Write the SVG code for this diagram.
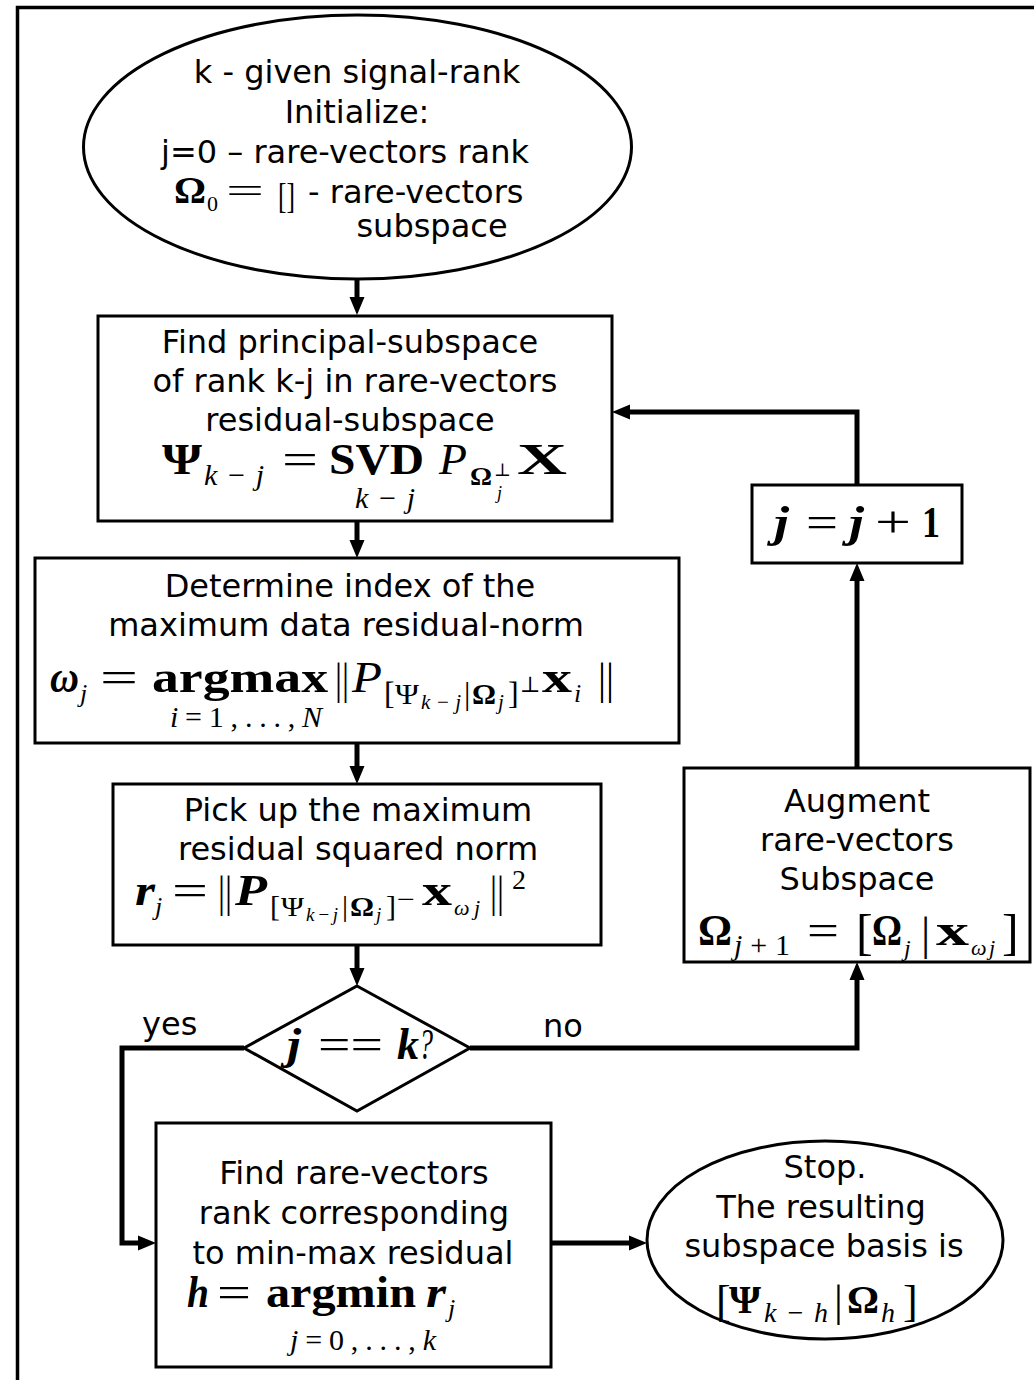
<svg xmlns="http://www.w3.org/2000/svg" width="1034" height="1380" viewBox="0 0 1034 1380">
<defs>
<style>
.frame{fill:none;stroke:#000;stroke-width:3.5}
.node{fill:#fff;stroke:#000;stroke-width:3}
.conn{fill:none;stroke:#000;stroke-width:5;stroke-linejoin:miter}
.t{font-family:"DejaVu Sans",Verdana,sans-serif;font-size:32px;fill:#000;text-anchor:middle}
.tl{font-family:"DejaVu Sans",Verdana,sans-serif;font-size:32px;fill:#000}
.m{font-family:"Liberation Serif","DejaVu Serif",serif;fill:#000}
.big{font-size:44px}
.mb{font-weight:bold}
.mi{font-style:italic}
.s{font-size:30px}
.ss{font-size:21px}
</style>
<marker id="arr" markerUnits="userSpaceOnUse" markerWidth="18" markerHeight="18" viewBox="0 0 18 18" refX="6" refY="9" orient="auto">
<path d="M0,1.5 L18,9 L0,16.5 z" fill="#000"/>
</marker>
</defs>
<rect width="1034" height="1380" fill="#fff"/>
<path class="frame" d="M17.5,1380 V7.5 H1034"/>

<g id="connectors">
<path class="conn" d="M357,279 V303" marker-end="url(#arr)"/>
<path class="conn" d="M357,522 V546" marker-end="url(#arr)"/>
<path class="conn" d="M357,743 V772" marker-end="url(#arr)"/>
<path class="conn" d="M357,945 V974" marker-end="url(#arr)"/>
<path class="conn" d="M244,1048 H122 V1243 H144" marker-end="url(#arr)"/>
<path class="conn" d="M470,1048 H857 V974" marker-end="url(#arr)"/>
<path class="conn" d="M857,768 V575" marker-end="url(#arr)"/>
<path class="conn" d="M857,485 V412 H624" marker-end="url(#arr)"/>
<path class="conn" d="M551,1243 H635" marker-end="url(#arr)"/>
<text class="tl" x="142" y="1035">yes</text>
<text class="tl" x="543" y="1037">no</text>
</g>

<g id="start">
<ellipse class="node" cx="357.5" cy="147" rx="274" ry="132"/>
<text class="t" x="357" y="83">k - given signal-rank</text>
<text class="t" x="357" y="123">Initialize:</text>
<text class="t" x="345" y="163">j=0 – rare-vectors rank</text>
<text class="m mb" x="174" y="203" font-size="38" textLength="32" lengthAdjust="spacingAndGlyphs">Ω</text>
<text class="m" x="207" y="211" font-size="22">0</text>
<text class="m" x="226" y="203" font-size="36" textLength="38" lengthAdjust="spacingAndGlyphs">=</text>
<text class="m" x="278" y="208" font-size="36" textLength="17" lengthAdjust="spacingAndGlyphs">[]</text>
<text class="tl" x="308" y="203">- rare-vectors</text>
<text class="t" x="432" y="237">subspace</text>
</g>

<g id="principal">
<rect class="node" x="98" y="316" width="514" height="205"/>
<text class="t" x="350" y="353">Find principal-subspace</text>
<text class="t" x="355" y="392">of rank k-j in rare-vectors</text>
<text class="t" x="350" y="431">residual-subspace</text>
<text class="m mb big" x="162" y="474" textLength="40" lengthAdjust="spacingAndGlyphs">Ψ</text>
<text class="m mi s" x="204" y="485" textLength="60" lengthAdjust="spacing">k−j</text>
<text class="m big" x="282" y="474" textLength="36" lengthAdjust="spacingAndGlyphs">=</text>
<text class="m mb big" x="329" y="474" textLength="95" lengthAdjust="spacingAndGlyphs">SVD</text>
<text class="m mi s" x="355" y="508" textLength="60" lengthAdjust="spacing">k−j</text>
<text class="m mi big" x="439" y="474" textLength="28" lengthAdjust="spacingAndGlyphs">P</text>
<text class="m mb" x="470" y="485" font-size="26" textLength="22" lengthAdjust="spacingAndGlyphs">Ω</text>
<text class="m" x="494" y="476" font-size="18">⊥</text>
<text class="m mi" x="497" y="499" font-size="18">j</text>
<text class="m mb big" x="517" y="474" textLength="50" lengthAdjust="spacingAndGlyphs">X</text>
</g>

<g id="determine">
<rect class="node" x="35" y="558" width="644" height="185"/>
<text class="t" x="350" y="597">Determine index of the</text>
<text class="t" x="346" y="636">maximum data residual-norm</text>
<text class="m mb mi big" x="50" y="692" textLength="29" lengthAdjust="spacingAndGlyphs">ω</text>
<text class="m mi" x="80" y="702" font-size="26">j</text>
<text class="m big" x="100" y="692" textLength="38" lengthAdjust="spacingAndGlyphs">=</text>
<text class="m mb big" x="152" y="692" textLength="176" lengthAdjust="spacingAndGlyphs">argmax</text>
<text class="m s" x="170" y="727" textLength="152" lengthAdjust="spacing"><tspan font-style="italic">i</tspan>=1,...,<tspan font-style="italic">N</tspan></text>
<text class="m big" x="335" y="694" textLength="14" lengthAdjust="spacingAndGlyphs">||</text>
<text class="m mi big" x="352" y="692" textLength="30" lengthAdjust="spacingAndGlyphs">P</text>
<text class="m" x="384" y="704" font-size="32">[</text>
<text class="m" x="395" y="704" font-size="30" textLength="24" lengthAdjust="spacingAndGlyphs">Ψ</text>
<text class="m mi ss" x="421" y="709" textLength="40" lengthAdjust="spacing">k−j</text>
<text class="m" x="464" y="704" font-size="32">|</text>
<text class="m mb" x="472" y="704" font-size="30" textLength="24" lengthAdjust="spacingAndGlyphs">Ω</text>
<text class="m mi ss" x="498" y="709">j</text>
<text class="m" x="508" y="704" font-size="32">]</text>
<text class="m" x="520" y="692" font-size="22">⊥</text>
<text class="m mb big" x="542" y="692" textLength="30" lengthAdjust="spacingAndGlyphs">x</text>
<text class="m mi" x="574" y="702" font-size="26">i</text>
<text class="m big" x="598" y="694" textLength="16" lengthAdjust="spacingAndGlyphs">||</text>
</g>

<g id="pickup">
<rect class="node" x="113" y="784" width="488" height="161"/>
<text class="t" x="358" y="821">Pick up the maximum</text>
<text class="t" x="358" y="860">residual squared norm</text>
<text class="m mb mi big" x="135" y="905" textLength="20" lengthAdjust="spacingAndGlyphs">r</text>
<text class="m mi" x="155" y="915" font-size="26">j</text>
<text class="m big" x="172" y="905" textLength="36" lengthAdjust="spacingAndGlyphs">=</text>
<text class="m big" x="218" y="907" textLength="14" lengthAdjust="spacingAndGlyphs">||</text>
<text class="m mb mi big" x="235" y="905" textLength="32" lengthAdjust="spacingAndGlyphs">P</text>
<text class="m" x="270" y="916" font-size="30">[</text>
<text class="m" x="281" y="916" font-size="28" textLength="23" lengthAdjust="spacingAndGlyphs">Ψ</text>
<text class="m mi" x="306" y="921" font-size="19" textLength="32" lengthAdjust="spacing">k−j</text>
<text class="m" x="342" y="916" font-size="30">|</text>
<text class="m mb" x="350" y="916" font-size="28" textLength="24" lengthAdjust="spacingAndGlyphs">Ω</text>
<text class="m mi" x="376" y="921" font-size="19">j</text>
<text class="m" x="386" y="916" font-size="30">]</text>
<text class="m" x="397" y="908" font-size="26" textLength="18" lengthAdjust="spacingAndGlyphs">−</text>
<text class="m mb big" x="422" y="905" textLength="30" lengthAdjust="spacingAndGlyphs">x</text>
<text class="m mi" x="454" y="915" font-size="22" textLength="26" lengthAdjust="spacing">ωj</text>
<text class="m big" x="490" y="907" textLength="14" lengthAdjust="spacingAndGlyphs">||</text>
<text class="m" x="512" y="889" font-size="28">2</text>
</g>

<g id="decision">
<polygon class="node" points="357,986 470,1048 357,1111 244,1048"/>
<text class="m mb mi big" x="287" y="1059" textLength="14" lengthAdjust="spacingAndGlyphs">j</text>
<text class="m big" x="318" y="1059" textLength="65" lengthAdjust="spacingAndGlyphs">==</text>
<text class="m mb mi big" x="397" y="1059" textLength="22" lengthAdjust="spacingAndGlyphs">k</text>
<text class="m mi big" x="419" y="1059" textLength="14" lengthAdjust="spacingAndGlyphs">?</text>
</g>

<g id="increment">
<rect class="node" x="752" y="485" width="210" height="78"/>
<text class="m mb mi big" x="774" y="537" textLength="15" lengthAdjust="spacingAndGlyphs">j</text>
<text class="m big" x="806" y="537" textLength="32" lengthAdjust="spacingAndGlyphs">=</text>
<text class="m mb mi big" x="849" y="537" textLength="15" lengthAdjust="spacingAndGlyphs">j</text>
<text class="m big" x="875" y="537" textLength="36" lengthAdjust="spacingAndGlyphs">+</text>
<text class="m mb big" x="922" y="537" textLength="18" lengthAdjust="spacingAndGlyphs">1</text>
</g>

<g id="augment">
<rect class="node" x="684" y="768" width="346" height="194"/>
<text class="t" x="857" y="812">Augment</text>
<text class="t" x="857" y="851">rare-vectors</text>
<text class="t" x="857" y="890">Subspace</text>
<text class="m mb big" x="698" y="945" textLength="34" lengthAdjust="spacingAndGlyphs">Ω</text>
<text class="m s" x="734" y="955" textLength="56" lengthAdjust="spacing"><tspan font-style="italic">j</tspan>+1</text>
<text class="m big" x="807" y="945" textLength="32" lengthAdjust="spacingAndGlyphs">=</text>
<text class="m" x="856" y="949" font-size="50">[</text>
<text class="m mb big" x="872" y="945" textLength="30" lengthAdjust="spacingAndGlyphs">Ω</text>
<text class="m mi" x="904" y="956" font-size="24">j</text>
<text class="m" x="921" y="949" font-size="46">|</text>
<text class="m mb big" x="936" y="945" textLength="33" lengthAdjust="spacingAndGlyphs">x</text>
<text class="m mi" x="971" y="955" font-size="22" textLength="24" lengthAdjust="spacing">ωj</text>
<text class="m" x="1002" y="949" font-size="50">]</text>
</g>

<g id="findrank">
<rect class="node" x="156" y="1123" width="395" height="244"/>
<text class="t" x="354" y="1184">Find rare-vectors</text>
<text class="t" x="354" y="1224">rank corresponding</text>
<text class="t" x="353" y="1264">to min-max residual</text>
<text class="m mb mi big" x="187" y="1307" textLength="22" lengthAdjust="spacingAndGlyphs">h</text>
<text class="m big" x="217" y="1307" textLength="34" lengthAdjust="spacingAndGlyphs">=</text>
<text class="m mb big" x="266" y="1307" textLength="150" lengthAdjust="spacingAndGlyphs">argmin</text>
<text class="m mb mi big" x="426" y="1307" textLength="20" lengthAdjust="spacingAndGlyphs">r</text>
<text class="m mi" x="448" y="1317" font-size="26">j</text>
<text class="m s" x="290" y="1350" textLength="146" lengthAdjust="spacing"><tspan font-style="italic">j</tspan>=0,...,<tspan font-style="italic">k</tspan></text>
</g>

<g id="stop">
<ellipse class="node" cx="825" cy="1240" rx="178" ry="99"/>
<text class="t" x="825" y="1178">Stop.</text>
<text class="t" x="821" y="1218">The resulting</text>
<text class="t" x="824" y="1257">subspace basis is</text>
<text class="m" x="716" y="1316" font-size="44">[</text>
<text class="m mb" x="729" y="1313" font-size="40" textLength="32" lengthAdjust="spacingAndGlyphs">Ψ</text>
<text class="m mi" x="764" y="1322" font-size="28" textLength="64" lengthAdjust="spacing">k−h</text>
<text class="m" x="834" y="1316" font-size="44">|</text>
<text class="m mb" x="847" y="1313" font-size="40" textLength="32" lengthAdjust="spacingAndGlyphs">Ω</text>
<text class="m mi" x="881" y="1322" font-size="28">h</text>
<text class="m" x="903" y="1316" font-size="44">]</text>
</g>
</svg>
